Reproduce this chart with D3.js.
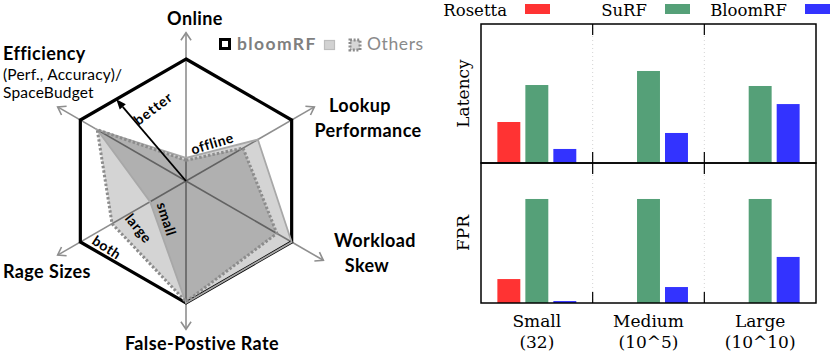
<!DOCTYPE html>
<html><head><meta charset="utf-8">
<script src="https://cdn.jsdelivr.net/npm/d3@7/dist/d3.min.js"></script>
<style>
html,body{margin:0;padding:0;background:#fff;}
svg{display:block;}
</style></head>
<body>
<svg id="chart" width="830" height="354"></svg>
<script>
// ---------- Radar data ----------
const radarAxes = ["Online", "Lookup Performance", "Workload Skew", "False-Postive Rate", "Rage Sizes", "Efficiency"];
const radarAngles = [90, 30, -30, -90, 210, 150];
const bloomRF = [1, 1, 1, 1, 1, 1];
const othersSmall = [0.19, 0.68, 1.0, 1.0, 0.34, 0.84];
const othersLarge = [0.17, 0.54, 0.86, 0.99, 0.70, 0.84];
const legendLeft = ["bloomRF", "Others"];

// ---------- Bar data ----------
const groups = ["Small", "Medium", "Large"];
const groupSub = ["(32)", "(10^5)", "(10^10)"];
const series = ["Rosetta", "SuRF", "BloomRF"];
const colors = ["#ff3333", "#55a078", "#3333ff"];
const latencyRosetta = [29.5, null, null];
const latencySuRF = [56.1, 66.2, 55.4];
const latencyBloomRF = [10.1, 21.6, 42.4];
const fprRosetta = [17.1, null, null];
const fprSuRF = [74.3, 74.3, 74.3];
const fprBloomRF = [1.4, 11.4, 32.9];
const panelNames = ["Latency", "FPR"];

const svg = d3.select("#chart");

// =============== RADAR ===============
const cx = 186, cy = 181;
const r = d3.scaleLinear().domain([0, 1]).range([0, 122]);
const pt = (i, v) => {
  const a = radarAngles[i] * Math.PI / 180;
  return [cx + r(v) * Math.cos(a), cy - r(v) * Math.sin(a)];
};
const radar = svg.append("g");
const line = d3.line().curve(d3.curveLinearClosed);

// axes
radarAxes.forEach((name, i) => {
  const len = i === 2 ? 1.3 : 1.215;
  const [x2, y2] = pt(i, len);
  radar.append("line").attr("x1", cx).attr("y1", cy).attr("x2", x2).attr("y2", y2)
    .attr("stroke", "#8f8f8f").attr("stroke-width", 1.6);
  const a = Math.atan2(y2 - cy, x2 - cx);
  const hl = 9, ha = 0.6;
  const p1 = [x2 - hl * Math.cos(a - ha), y2 - hl * Math.sin(a - ha)];
  const p2 = [x2 - hl * Math.cos(a + ha), y2 - hl * Math.sin(a + ha)];
  radar.append("path").attr("d", `M${p1}L${x2},${y2}L${p2}`)
    .attr("fill", "none").attr("stroke", "#8f8f8f").attr("stroke-width", 1.6);
});

// bloomRF hexagon
radar.append("path").attr("d", line(bloomRF.map((v, i) => pt(i, v))))
  .attr("fill", "none").attr("stroke", "#000").attr("stroke-width", 3.2).attr("stroke-linejoin", "miter");

// others fills
[othersSmall, othersLarge].forEach(d => {
  radar.append("path").attr("d", line(d.map((v, i) => pt(i, v))))
    .attr("fill", "#000").attr("fill-opacity", 0.17).attr("stroke", "none");
});
radar.append("path").attr("d", line(othersSmall.map((v, i) => pt(i, v))))
  .attr("fill", "none").attr("stroke", "#a8a8a8").attr("stroke-width", 1.8);
radar.append("path").attr("d", line(othersLarge.map((v, i) => pt(i, v))))
  .attr("fill", "none").attr("stroke", "#8c8c8c").attr("stroke-width", 3).attr("stroke-dasharray", "2.5,2");

// better arrow
{
  const A = pt(5, 1), B = pt(0, 1), t = 0.34;
  const tip = [A[0] + (B[0] - A[0]) * t, A[1] + (B[1] - A[1]) * t];
  const a = Math.atan2(tip[1] - cy, tip[0] - cx);
  const hl = 10, hw = 4;
  const base = [tip[0] - hl * Math.cos(a), tip[1] - hl * Math.sin(a)];
  radar.append("line").attr("x1", cx).attr("y1", cy).attr("x2", base[0]).attr("y2", base[1])
    .attr("stroke", "#000").attr("stroke-width", 1.8);
  const n = [-Math.sin(a), Math.cos(a)];
  radar.append("path").attr("d",
    `M${tip}L${base[0] + n[0] * hw},${base[1] + n[1] * hw}L${base[0] - n[0] * hw},${base[1] - n[1] * hw}Z`)
    .attr("fill", "#000");
}

const lbl = (x, y, txt, opts = {}) => {
  const t = radar.append("text").attr("x", x).attr("y", y).text(txt)
    .attr("font-family", "Lato, 'Open Sans', sans-serif")
    .attr("font-size", opts.size || 18)
    .attr("font-weight", opts.weight || "bold")
    .attr("fill", opts.fill || "#000")
    .attr("text-anchor", opts.anchor || "start")
    .attr("letter-spacing", opts.ls !== undefined ? opts.ls : 0.4);
  if (opts.rot !== undefined) {
    t.attr("transform", `rotate(${opts.rot},${x},${y})`).attr("dominant-baseline", "central");
  }
  return t;
};

// axis labels
lbl(195, 25, "Online", { anchor: "middle" });
lbl(3, 60, "Efficiency");
lbl(3, 80, "(Perf., Accuracy)/", { weight: "normal", size: 15.5, ls: 0.2 });
lbl(3, 98, "SpaceBudget", { weight: "normal", size: 15.5, ls: 0.2 });
lbl(360, 112, "Lookup", { anchor: "middle" });
lbl(368, 137, "Performance", { anchor: "middle" });
lbl(375, 247, "Workload", { anchor: "middle" });
lbl(367, 272, "Skew", { anchor: "middle" });
lbl(3, 278, "Rage Sizes");
lbl(202, 350, "False-Postive Rate", { anchor: "middle" });

// inner annotations
lbl(153, 108, "better", { size: 14, rot: -37, anchor: "middle", ls: 1 });
lbl(212, 143, "offline", { size: 14, rot: -17, anchor: "middle", ls: 0.5 });
lbl(167, 219, "small", { size: 14, rot: 72, anchor: "middle", ls: 0.5 });
lbl(139, 228, "large", { size: 14, rot: 51, anchor: "middle", ls: 0.5 });
lbl(107, 247, "both", { size: 14, rot: 33, anchor: "middle", ls: 0.5 });

// left legend
radar.append("rect").attr("x", 220.5).attr("y", 39.5).attr("width", 9).attr("height", 9)
  .attr("fill", "#fff").attr("stroke", "#000").attr("stroke-width", 3);
lbl(237, 50, legendLeft[0], { fill: "#7f7f7f", ls: 1.4, size: 17.5 });
radar.append("rect").attr("x", 324.5).attr("y", 40.5).attr("width", 10).attr("height", 9)
  .attr("fill", "#d2d2d2").attr("stroke", "#bdbdbd").attr("stroke-width", 1.2);
radar.append("rect").attr("x", 350).attr("y", 40).attr("width", 10).attr("height", 10)
  .attr("fill", "#d6d6d6").attr("stroke", "#8c8c8c").attr("stroke-width", 3).attr("stroke-dasharray", "2,1.6");
lbl(367, 50, legendLeft[1], { fill: "#8a8a8a", weight: "normal", ls: 0.6, size: 17.5 });

// =============== BARS ===============
const X0 = 481, X1 = 816;
const x0 = d3.scaleBand().domain(groups).range([X0, X1]);
const x1 = d3.scaleBand().domain(series).range([0, x0.bandwidth()]).paddingInner(0.18).paddingOuter(0.585);
const panels = [
  { name: panelNames[0], top: 24, bottom: 163, data: [latencyRosetta, latencySuRF, latencyBloomRF] },
  { name: panelNames[1], top: 163, bottom: 303, data: [fprRosetta, fprSuRF, fprBloomRF] }
];
const serif = "'DejaVu Serif', 'Liberation Serif', serif";
const bars = svg.append("g");
panels.forEach(p => {
  const y = d3.scaleLinear().domain([0, 100]).range([p.bottom, p.top]);
  groups.slice(1).forEach(g => {
    const gx = x0(g);
    bars.append("line").attr("x1", gx).attr("x2", gx).attr("y1", p.top).attr("y2", p.bottom)
      .attr("stroke", "#c8c8c8").attr("stroke-width", 0.8).attr("stroke-dasharray", "1,3");
    bars.append("line").attr("x1", gx).attr("x2", gx).attr("y1", p.top).attr("y2", p.top + 11)
      .attr("stroke", "#000").attr("stroke-width", 1.2);
    bars.append("line").attr("x1", gx).attr("x2", gx).attr("y1", p.bottom - 11).attr("y2", p.bottom)
      .attr("stroke", "#000").attr("stroke-width", 1.2);
  });
  series.forEach((s, si) => {
    groups.forEach((g, gi) => {
      const v = p.data[si][gi];
      if (v === null) return;
      bars.append("rect").attr("x", x0(g) + x1(s)).attr("width", x1.bandwidth())
        .attr("y", y(v)).attr("height", y(0) - y(v)).attr("fill", colors[si]);
    });
  });
  bars.append("rect").attr("x", X0).attr("y", p.top).attr("width", X1 - X0).attr("height", p.bottom - p.top)
    .attr("fill", "none").attr("stroke", "#000").attr("stroke-width", 1.5);
  bars.append("text").attr("transform", `translate(469,${(p.top + p.bottom) / 2}) rotate(-90)`)
    .attr("text-anchor", "middle").attr("font-family", serif).attr("font-size", 17).text(p.name);
});
groups.forEach((g, i) => {
  const gx = x0(g) + x0.bandwidth() / 2;
  bars.append("text").attr("x", gx).attr("y", 327).attr("text-anchor", "middle")
    .attr("font-family", serif).attr("font-size", 17).text(g);
  bars.append("text").attr("x", gx).attr("y", 348).attr("text-anchor", "middle")
    .attr("font-family", serif).attr("font-size", 17).text(groupSub[i]);
});
series.forEach((s, i) => {
  const rx = 525 + i * 140;
  bars.append("rect").attr("x", rx).attr("y", 4).attr("width", 25).attr("height", 10).attr("fill", colors[i]);
  bars.append("text").attr("x", rx - 18).attr("y", 15.5).attr("text-anchor", "end")
    .attr("font-family", serif).attr("font-size", 16.5).text(s);
});
</script>
</body></html>
